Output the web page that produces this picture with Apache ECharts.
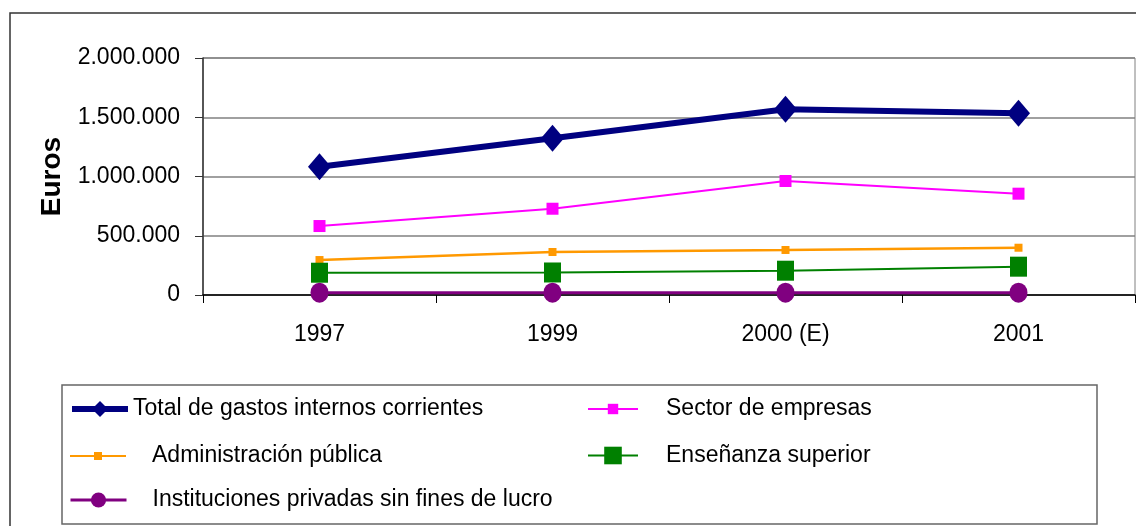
<!DOCTYPE html>
<html>
<head>
<meta charset="utf-8">
<script src="https://cdn.jsdelivr.net/npm/echarts@6/dist/echarts.min.js"></script>
<style>
  html, body { margin: 0; padding: 0; background: #fff; }
  #chart { width: 1136px; height: 526px; }
</style>
</head>
<body>
<div id="chart"></div>
<script>
// datos (euros)
const years = ['1997', '1999', '2000 (E)', '2001'];
const totalGastos = [1083000, 1322000, 1567000, 1533000];
const sectorEmpresas = [582000, 728000, 962000, 855000];
const adminPublica = [295000, 363000, 380000, 399000];
const ensenanzaSup = [188000, 190000, 205000, 239000];
const instPrivadas = [20000, 20000, 20000, 20000];
const yTicks = [0, 500000, 1000000, 1500000, 2000000];

const FONT = "'Liberation Sans', Arial, sans-serif";

function miles(v) {
    return String(v).replace(/\B(?=(\d{3})+(?!\d))/g, '.');
}

const myChart = echarts.init(document.getElementById('chart'));

// una leyenda por elemento para poder colocarlas como en el original
function leyenda(name, left, centerY, itemWidth, itemHeight, padLeft, lineWidth) {
    return {
        data: [name],
        left: left,
        top: centerY - Math.max(itemHeight, 21) / 2,
        padding: 0,
        orient: 'horizontal',
        itemWidth: itemWidth,
        itemHeight: itemHeight,
        selectedMode: false,
        lineStyle: { width: lineWidth },
        textStyle: {
            fontFamily: FONT,
            fontSize: 23,
            color: '#000',
            padding: [0, 0, 0, padLeft]
        }
    };
}

myChart.setOption({
    animation: false,
    grid: {
        left: 203,
        top: 58,
        right: 1,
        bottom: 231,
        show: true,
        borderColor: '#808080',
        borderWidth: 1
    },
    graphic: [
        {
            type: 'rect',
            shape: { x: 10, y: 13, width: 1200, height: 600 },
            style: { fill: 'none', stroke: '#333', lineWidth: 1.5 },
            silent: true
        },
        {
            type: 'rect',
            shape: { x: 62, y: 385, width: 1035, height: 139 },
            style: { fill: 'none', stroke: '#666', lineWidth: 1.5 },
            silent: true
        }
    ],
    legend: [
        leyenda('Total de gastos internos corrientes', 69, 408, 56, 20, 0, 6),
        leyenda('Administración pública', 69, 455, 56, 10, 21, 2),
        leyenda('Instituciones privadas sin fines de lucro', 69, 499, 56, 19, 21, 3),
        leyenda('Sector de empresas', 587, 408, 50, 13, 23, 2),
        leyenda('Enseñanza superior', 587, 455, 50, 22, 23, 2)
    ],
    xAxis: {
        type: 'category',
        data: years,
        boundaryGap: true,
        axisLine: { lineStyle: { color: '#000', width: 1.5 } },
        axisTick: { show: true, length: 8, lineStyle: { color: '#000' } },
        axisLabel: { color: '#000', fontFamily: FONT, fontSize: 23, margin: 28 },
        splitLine: { show: false }
    },
    yAxis: {
        type: 'value',
        min: yTicks[0],
        max: yTicks[yTicks.length - 1],
        interval: yTicks[1] - yTicks[0],
        name: 'Euros',
        nameLocation: 'middle',
        nameGap: 130,
        nameRotate: 90,
        nameTextStyle: { fontFamily: FONT, fontWeight: 'bold', fontSize: 28, color: '#000' },
        axisLine: { show: true, lineStyle: { color: '#333', width: 1.5 } },
        axisTick: { show: true, length: 8, lineStyle: { color: '#333' } },
        axisLabel: { color: '#000', fontFamily: FONT, fontSize: 23, margin: 23, formatter: miles },
        splitLine: { show: true, lineStyle: { color: '#808080', width: 1.5 } }
    },
    series: [
        {
            name: 'Instituciones privadas sin fines de lucro',
            type: 'line',
            data: instPrivadas,
            symbol: 'circle',
            symbolSize: [18, 20],
            itemStyle: { color: '#800080' },
            lineStyle: { color: '#800080', width: 3 },
            z: 6
        },
        {
            name: 'Enseñanza superior',
            type: 'line',
            data: ensenanzaSup,
            symbol: 'rect',
            symbolSize: [17, 20],
            itemStyle: { color: '#008000' },
            lineStyle: { color: '#008000', width: 2 },
            z: 5
        },
        {
            name: 'Administración pública',
            type: 'line',
            data: adminPublica,
            symbol: 'rect',
            symbolSize: [8, 8],
            itemStyle: { color: '#FF9900' },
            lineStyle: { color: '#FF9900', width: 2.5 },
            z: 4
        },
        {
            name: 'Sector de empresas',
            type: 'line',
            data: sectorEmpresas,
            symbol: 'rect',
            symbolSize: [12, 12],
            itemStyle: { color: '#FF00FF' },
            lineStyle: { color: '#FF00FF', width: 2 },
            z: 4
        },
        {
            name: 'Total de gastos internos corrientes',
            type: 'line',
            data: totalGastos,
            symbol: 'diamond',
            symbolSize: [23, 27],
            itemStyle: { color: '#000080' },
            lineStyle: { color: '#000080', width: 6 },
            z: 7
        }
    ]
});
</script>
</body>
</html>
